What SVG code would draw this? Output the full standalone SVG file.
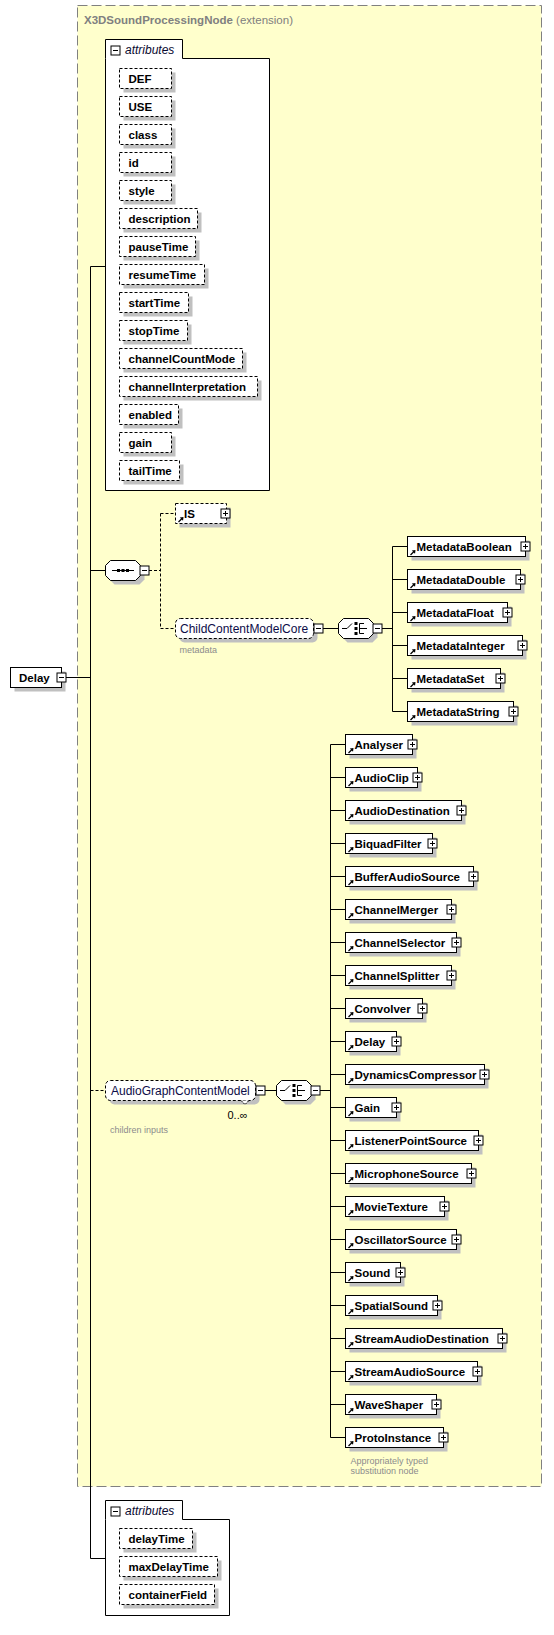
<svg xmlns="http://www.w3.org/2000/svg" xmlns:xlink="http://www.w3.org/1999/xlink" width="554" height="1635" viewBox="0 0 554 1635">
<style>
.box{fill:#fff;stroke:#000;stroke-width:1}
.opt{fill:#fff;stroke:#000;stroke-width:1;stroke-dasharray:3,2}
.sh{fill:#c0c0c0}
.t{font-family:"Liberation Sans",Arial,sans-serif;font-weight:bold;font-size:11.5px;fill:#000}
.gt{font-family:"Liberation Sans",Arial,sans-serif;font-size:12px;fill:#0c0c48}
.it{font-family:"Liberation Sans",Arial,sans-serif;font-style:italic;font-size:12px;fill:#0a0a30}
.note{font-family:"Liberation Sans",Arial,sans-serif;font-size:9px;fill:#8c8c8c}
.ln{stroke:#000;stroke-width:1;fill:none}
.dl{stroke:#000;stroke-width:1;fill:none;stroke-dasharray:3,2}
</style>
<defs>
<g id="plus"><rect x="0.5" y="0.5" width="9" height="9" fill="#fff" stroke="#000"/><path d="M2.5 5H7.5M5 2.5V7.5" stroke="#000"/></g>
<g id="minus"><rect x="0.5" y="0.5" width="9" height="9" fill="#fff" stroke="#000"/><path d="M2.5 5H7.5" stroke="#000"/></g>
<g id="arr"><path d="M1 6.5L4.5 3" stroke="#000" stroke-width="1.3"/><path d="M6 1.5L2.3 2L5.5 5.2Z" fill="#000"/></g>
</defs>

<g id="extension">
<rect x="77.5" y="5.5" width="464" height="1481" fill="#ffffcc" stroke="#808080" stroke-dasharray="10,4"/>
<text x="84" y="24" class="t" style="fill:#808080">X3DSoundProcessingNode <tspan style="font-weight:normal">(extension)</tspan></text>
</g>

<g id="connectors">
<path class="ln" d="M90.5 266.5V1558.5M90.5 266.5H105.5M90.5 570.5H105.5M90.5 1558.5H105.5M66 677.5H90.5"/>
<path class="dl" d="M90.5 1090.5H105.5"/>
<path class="dl" d="M149 570.5H160.5M160.5 513.5V628.5M160.5 513.5H175.5M160.5 628.5H175.5"/>
<path class="ln" d="M323 628.5H338.5M382 628.5H392.5M392.5 546.5V711.5"/>
<path class="ln" d="M392.5 546.5H407.5M392.5 579.5H407.5M392.5 612.5H407.5M392.5 645.5H407.5M392.5 678.5H407.5M392.5 711.5H407.5"/>
<path class="ln" d="M265 1090.5H276.5M319 1090.5H330.5M330.5 744.5V1437.5"/>
<path class="ln" d="M330.5 744.5H345.5M330.5 777.5H345.5M330.5 810.5H345.5M330.5 843.5H345.5M330.5 876.5H345.5M330.5 909.5H345.5M330.5 942.5H345.5M330.5 975.5H345.5M330.5 1008.5H345.5M330.5 1041.5H345.5M330.5 1074.5H345.5M330.5 1107.5H345.5M330.5 1140.5H345.5M330.5 1173.5H345.5M330.5 1206.5H345.5M330.5 1239.5H345.5M330.5 1272.5H345.5M330.5 1305.5H345.5M330.5 1338.5H345.5M330.5 1371.5H345.5M330.5 1404.5H345.5M330.5 1437.5H345.5"/>
</g>

<g id="Delay">
<rect class="sh" x="14.5" y="671.5" width="51" height="20"/>
<rect class="box" x="10.5" y="667.5" width="51" height="20"/>
<text class="t" x="19" y="682">Delay</text>
<use xlink:href="#minus" x="56.5" y="672.5"/>
</g>

<g id="attributes1">
<path class="box" d="M105.5 58.5V39.5H182.5V58.5H269.5V490.5H105.5Z"/>
<use xlink:href="#minus" x="110.5" y="45.5"/>
<text class="it" x="125" y="53.5">attributes</text>
<g id="attr-DEF"><rect class="sh" x="123.5" y="72.5" width="52" height="20"/><rect class="opt" x="119.5" y="68.5" width="52" height="20"/><text class="t" x="128.5" y="82.5">DEF</text></g>
<g id="attr-USE"><rect class="sh" x="123.5" y="100.5" width="52" height="20"/><rect class="opt" x="119.5" y="96.5" width="52" height="20"/><text class="t" x="128.5" y="110.5">USE</text></g>
<g id="attr-class"><rect class="sh" x="123.5" y="128.5" width="52" height="20"/><rect class="opt" x="119.5" y="124.5" width="52" height="20"/><text class="t" x="128.5" y="138.5">class</text></g>
<g id="attr-id"><rect class="sh" x="123.5" y="156.5" width="52" height="20"/><rect class="opt" x="119.5" y="152.5" width="52" height="20"/><text class="t" x="128.5" y="166.5">id</text></g>
<g id="attr-style"><rect class="sh" x="123.5" y="184.5" width="52" height="20"/><rect class="opt" x="119.5" y="180.5" width="52" height="20"/><text class="t" x="128.5" y="194.5">style</text></g>
<g id="attr-description"><rect class="sh" x="123.5" y="212.5" width="78" height="20"/><rect class="opt" x="119.5" y="208.5" width="78" height="20"/><text class="t" x="128.5" y="222.5">description</text></g>
<g id="attr-pauseTime"><rect class="sh" x="123.5" y="240.5" width="76" height="20"/><rect class="opt" x="119.5" y="236.5" width="76" height="20"/><text class="t" x="128.5" y="250.5">pauseTime</text></g>
<g id="attr-resumeTime"><rect class="sh" x="123.5" y="268.5" width="85" height="20"/><rect class="opt" x="119.5" y="264.5" width="85" height="20"/><text class="t" x="128.5" y="278.5">resumeTime</text></g>
<g id="attr-startTime"><rect class="sh" x="123.5" y="296.5" width="69" height="20"/><rect class="opt" x="119.5" y="292.5" width="69" height="20"/><text class="t" x="128.5" y="306.5">startTime</text></g>
<g id="attr-stopTime"><rect class="sh" x="123.5" y="324.5" width="68" height="20"/><rect class="opt" x="119.5" y="320.5" width="68" height="20"/><text class="t" x="128.5" y="334.5">stopTime</text></g>
<g id="attr-channelCountMode"><rect class="sh" x="123.5" y="352.5" width="123" height="20"/><rect class="opt" x="119.5" y="348.5" width="123" height="20"/><text class="t" x="128.5" y="362.5">channelCountMode</text></g>
<g id="attr-channelInterpretation"><rect class="sh" x="123.5" y="380.5" width="138" height="20"/><rect class="opt" x="119.5" y="376.5" width="138" height="20"/><text class="t" x="128.5" y="390.5">channelInterpretation</text></g>
<g id="attr-enabled"><rect class="sh" x="123.5" y="408.5" width="59" height="20"/><rect class="opt" x="119.5" y="404.5" width="59" height="20"/><text class="t" x="128.5" y="418.5">enabled</text></g>
<g id="attr-gain"><rect class="sh" x="123.5" y="436.5" width="52" height="20"/><rect class="opt" x="119.5" y="432.5" width="52" height="20"/><text class="t" x="128.5" y="446.5">gain</text></g>
<g id="attr-tailTime"><rect class="sh" x="123.5" y="464.5" width="60" height="20"/><rect class="opt" x="119.5" y="460.5" width="60" height="20"/><text class="t" x="128.5" y="474.5">tailTime</text></g>
</g>

<g id="sequence">
<polygon class="sh" points="114.5,564.5 139.5,564.5 144.5,569.5 144.5,579.5 139.5,584.5 114.5,584.5 109.5,579.5 109.5,569.5"/>
<polygon class="box" points="110.5,560.5 135.5,560.5 140.5,565.5 140.5,575.5 135.5,580.5 110.5,580.5 105.5,575.5 105.5,565.5"/>
<path class="ln" d="M112 570.5H134"/>
<rect x="117" y="569" width="3" height="3" fill="#000"/><rect x="121.5" y="569" width="3" height="3" fill="#000"/><rect x="126" y="569" width="3" height="3" fill="#000"/>
<use xlink:href="#minus" x="139.5" y="565.5"/>
</g>

<g id="IS">
<rect class="sh" x="179.5" y="507.5" width="51" height="20"/>
<rect class="opt" x="175.5" y="503.5" width="51" height="20"/>
<use xlink:href="#arr" x="177.5" y="515.5"/>
<text class="t" x="184" y="518">IS</text>
<use xlink:href="#plus" x="220.5" y="508.5"/>
</g>

<g id="ChildContentModelCore">
<rect class="sh" x="179.5" y="622.5" width="138" height="20" rx="5"/>
<rect class="opt" x="175.5" y="618.5" width="138" height="20" rx="5"/>
<text class="gt" x="180" y="633">ChildContentModelCore</text>
<use xlink:href="#minus" x="313.5" y="623.5"/>
<text class="note" x="179.5" y="653">metadata</text>
</g>

<g id="choice1">
<polygon class="sh" points="347.5,622.5 372.5,622.5 377.5,627.5 377.5,637.5 372.5,642.5 347.5,642.5 342.5,637.5 342.5,627.5"/>
<polygon class="box" points="343.5,618.5 368.5,618.5 373.5,623.5 373.5,633.5 368.5,638.5 343.5,638.5 338.5,633.5 338.5,623.5"/>
<path class="ln" d="M342 628.5H347L352 623.5M359.5 623.5V633.5M359.5 623.5H364M359.5 628.5H367M359.5 633.5H364"/>
<rect x="354.5" y="622" width="3" height="3" fill="#000"/><rect x="354.5" y="627" width="3" height="3" fill="#000"/><rect x="354.5" y="632" width="3" height="3" fill="#000"/>
<use xlink:href="#minus" x="372.5" y="623.5"/>
</g>

<g id="MetadataBoolean"><rect class="sh" x="411.5" y="540.5" width="118" height="20"/><rect class="box" x="407.5" y="536.5" width="118" height="20"/><use xlink:href="#arr" x="409.5" y="548.5"/><text class="t" x="416.5" y="551">MetadataBoolean</text><use xlink:href="#plus" x="520.5" y="541.5"/></g>
<g id="MetadataDouble"><rect class="sh" x="411.5" y="573.5" width="113" height="20"/><rect class="box" x="407.5" y="569.5" width="113" height="20"/><use xlink:href="#arr" x="409.5" y="581.5"/><text class="t" x="416.5" y="584">MetadataDouble</text><use xlink:href="#plus" x="515.5" y="574.5"/></g>
<g id="MetadataFloat"><rect class="sh" x="411.5" y="606.5" width="100" height="20"/><rect class="box" x="407.5" y="602.5" width="100" height="20"/><use xlink:href="#arr" x="409.5" y="614.5"/><text class="t" x="416.5" y="617">MetadataFloat</text><use xlink:href="#plus" x="502.5" y="607.5"/></g>
<g id="MetadataInteger"><rect class="sh" x="411.5" y="639.5" width="115" height="20"/><rect class="box" x="407.5" y="635.5" width="115" height="20"/><use xlink:href="#arr" x="409.5" y="647.5"/><text class="t" x="416.5" y="650">MetadataInteger</text><use xlink:href="#plus" x="517.5" y="640.5"/></g>
<g id="MetadataSet"><rect class="sh" x="411.5" y="672.5" width="93" height="20"/><rect class="box" x="407.5" y="668.5" width="93" height="20"/><use xlink:href="#arr" x="409.5" y="680.5"/><text class="t" x="416.5" y="683">MetadataSet</text><use xlink:href="#plus" x="495.5" y="673.5"/></g>
<g id="MetadataString"><rect class="sh" x="411.5" y="705.5" width="106" height="20"/><rect class="box" x="407.5" y="701.5" width="106" height="20"/><use xlink:href="#arr" x="409.5" y="713.5"/><text class="t" x="416.5" y="716">MetadataString</text><use xlink:href="#plus" x="508.5" y="706.5"/></g>

<g id="AudioGraphContentModel">
<rect class="sh" x="109.5" y="1084.5" width="150" height="20" rx="5"/>
<rect class="opt" x="105.5" y="1080.5" width="150" height="20" rx="5"/>
<path d="M241 1100.5L245 1104.5L249 1100.5" fill="#fff" stroke="#000" stroke-dasharray="2,1"/>
<text class="gt" x="111" y="1095">AudioGraphContentModel</text>
<use xlink:href="#minus" x="255.5" y="1085.5"/>
<text x="227.5" y="1118.5" style="font-family:'Liberation Sans',Arial,sans-serif;font-size:11px;fill:#000">0..∞</text>
<text class="note" x="110" y="1133">children inputs</text>
</g>

<g id="choice2">
<polygon class="sh" points="285.5,1084.5 310.5,1084.5 315.5,1089.5 315.5,1099.5 310.5,1104.5 285.5,1104.5 280.5,1099.5 280.5,1089.5"/>
<polygon class="box" points="281.5,1080.5 306.5,1080.5 311.5,1085.5 311.5,1095.5 306.5,1100.5 281.5,1100.5 276.5,1095.5 276.5,1085.5"/>
<path class="ln" d="M280 1090.5H285L290 1085.5M297.5 1085.5V1095.5M297.5 1085.5H302M297.5 1090.5H305M297.5 1095.5H302"/>
<rect x="292.5" y="1084" width="3" height="3" fill="#000"/><rect x="292.5" y="1089" width="3" height="3" fill="#000"/><rect x="292.5" y="1094" width="3" height="3" fill="#000"/>
<use xlink:href="#minus" x="310.5" y="1085.5"/>
</g>

<g id="Analyser"><rect class="sh" x="349.5" y="738.5" width="67" height="20"/><rect class="box" x="345.5" y="734.5" width="67" height="20"/><use xlink:href="#arr" x="347.5" y="746.5"/><text class="t" x="354.5" y="749">Analyser</text><use xlink:href="#plus" x="407.5" y="739.5"/></g>
<g id="AudioClip"><rect class="sh" x="349.5" y="771.5" width="72" height="20"/><rect class="box" x="345.5" y="767.5" width="72" height="20"/><use xlink:href="#arr" x="347.5" y="779.5"/><text class="t" x="354.5" y="782">AudioClip</text><use xlink:href="#plus" x="412.5" y="772.5"/></g>
<g id="AudioDestination"><rect class="sh" x="349.5" y="804.5" width="116" height="20"/><rect class="box" x="345.5" y="800.5" width="116" height="20"/><use xlink:href="#arr" x="347.5" y="812.5"/><text class="t" x="354.5" y="815">AudioDestination</text><use xlink:href="#plus" x="456.5" y="805.5"/></g>
<g id="BiquadFilter"><rect class="sh" x="349.5" y="837.5" width="87" height="20"/><rect class="box" x="345.5" y="833.5" width="87" height="20"/><use xlink:href="#arr" x="347.5" y="845.5"/><text class="t" x="354.5" y="848">BiquadFilter</text><use xlink:href="#plus" x="427.5" y="838.5"/></g>
<g id="BufferAudioSource"><rect class="sh" x="349.5" y="870.5" width="128" height="20"/><rect class="box" x="345.5" y="866.5" width="128" height="20"/><use xlink:href="#arr" x="347.5" y="878.5"/><text class="t" x="354.5" y="881">BufferAudioSource</text><use xlink:href="#plus" x="468.5" y="871.5"/></g>
<g id="ChannelMerger"><rect class="sh" x="349.5" y="903.5" width="106" height="20"/><rect class="box" x="345.5" y="899.5" width="106" height="20"/><use xlink:href="#arr" x="347.5" y="911.5"/><text class="t" x="354.5" y="914">ChannelMerger</text><use xlink:href="#plus" x="446.5" y="904.5"/></g>
<g id="ChannelSelector"><rect class="sh" x="349.5" y="936.5" width="111" height="20"/><rect class="box" x="345.5" y="932.5" width="111" height="20"/><use xlink:href="#arr" x="347.5" y="944.5"/><text class="t" x="354.5" y="947">ChannelSelector</text><use xlink:href="#plus" x="451.5" y="937.5"/></g>
<g id="ChannelSplitter"><rect class="sh" x="349.5" y="969.5" width="106" height="20"/><rect class="box" x="345.5" y="965.5" width="106" height="20"/><use xlink:href="#arr" x="347.5" y="977.5"/><text class="t" x="354.5" y="980">ChannelSplitter</text><use xlink:href="#plus" x="446.5" y="970.5"/></g>
<g id="Convolver"><rect class="sh" x="349.5" y="1002.5" width="77" height="20"/><rect class="box" x="345.5" y="998.5" width="77" height="20"/><use xlink:href="#arr" x="347.5" y="1010.5"/><text class="t" x="354.5" y="1013">Convolver</text><use xlink:href="#plus" x="417.5" y="1003.5"/></g>
<g id="DelayRef"><rect class="sh" x="349.5" y="1035.5" width="51" height="20"/><rect class="box" x="345.5" y="1031.5" width="51" height="20"/><use xlink:href="#arr" x="347.5" y="1043.5"/><text class="t" x="354.5" y="1046">Delay</text><use xlink:href="#plus" x="391.5" y="1036.5"/></g>
<g id="DynamicsCompressor"><rect class="sh" x="349.5" y="1068.5" width="139" height="20"/><rect class="box" x="345.5" y="1064.5" width="139" height="20"/><use xlink:href="#arr" x="347.5" y="1076.5"/><text class="t" x="354.5" y="1079">DynamicsCompressor</text><use xlink:href="#plus" x="479.5" y="1069.5"/></g>
<g id="Gain"><rect class="sh" x="349.5" y="1101.5" width="51" height="20"/><rect class="box" x="345.5" y="1097.5" width="51" height="20"/><use xlink:href="#arr" x="347.5" y="1109.5"/><text class="t" x="354.5" y="1112">Gain</text><use xlink:href="#plus" x="391.5" y="1102.5"/></g>
<g id="ListenerPointSource"><rect class="sh" x="349.5" y="1134.5" width="133" height="20"/><rect class="box" x="345.5" y="1130.5" width="133" height="20"/><use xlink:href="#arr" x="347.5" y="1142.5"/><text class="t" x="354.5" y="1145">ListenerPointSource</text><use xlink:href="#plus" x="473.5" y="1135.5"/></g>
<g id="MicrophoneSource"><rect class="sh" x="349.5" y="1167.5" width="126" height="20"/><rect class="box" x="345.5" y="1163.5" width="126" height="20"/><use xlink:href="#arr" x="347.5" y="1175.5"/><text class="t" x="354.5" y="1178">MicrophoneSource</text><use xlink:href="#plus" x="466.5" y="1168.5"/></g>
<g id="MovieTexture"><rect class="sh" x="349.5" y="1200.5" width="99" height="20"/><rect class="box" x="345.5" y="1196.5" width="99" height="20"/><use xlink:href="#arr" x="347.5" y="1208.5"/><text class="t" x="354.5" y="1211">MovieTexture</text><use xlink:href="#plus" x="439.5" y="1201.5"/></g>
<g id="OscillatorSource"><rect class="sh" x="349.5" y="1233.5" width="111" height="20"/><rect class="box" x="345.5" y="1229.5" width="111" height="20"/><use xlink:href="#arr" x="347.5" y="1241.5"/><text class="t" x="354.5" y="1244">OscillatorSource</text><use xlink:href="#plus" x="451.5" y="1234.5"/></g>
<g id="Sound"><rect class="sh" x="349.5" y="1266.5" width="55" height="20"/><rect class="box" x="345.5" y="1262.5" width="55" height="20"/><use xlink:href="#arr" x="347.5" y="1274.5"/><text class="t" x="354.5" y="1277">Sound</text><use xlink:href="#plus" x="395.5" y="1267.5"/></g>
<g id="SpatialSound"><rect class="sh" x="349.5" y="1299.5" width="92" height="20"/><rect class="box" x="345.5" y="1295.5" width="92" height="20"/><use xlink:href="#arr" x="347.5" y="1307.5"/><text class="t" x="354.5" y="1310">SpatialSound</text><use xlink:href="#plus" x="432.5" y="1300.5"/></g>
<g id="StreamAudioDestination"><rect class="sh" x="349.5" y="1332.5" width="157" height="20"/><rect class="box" x="345.5" y="1328.5" width="157" height="20"/><use xlink:href="#arr" x="347.5" y="1340.5"/><text class="t" x="354.5" y="1343">StreamAudioDestination</text><use xlink:href="#plus" x="497.5" y="1333.5"/></g>
<g id="StreamAudioSource"><rect class="sh" x="349.5" y="1365.5" width="132" height="20"/><rect class="box" x="345.5" y="1361.5" width="132" height="20"/><use xlink:href="#arr" x="347.5" y="1373.5"/><text class="t" x="354.5" y="1376">StreamAudioSource</text><use xlink:href="#plus" x="472.5" y="1366.5"/></g>
<g id="WaveShaper"><rect class="sh" x="349.5" y="1398.5" width="91" height="20"/><rect class="box" x="345.5" y="1394.5" width="91" height="20"/><use xlink:href="#arr" x="347.5" y="1406.5"/><text class="t" x="354.5" y="1409">WaveShaper</text><use xlink:href="#plus" x="431.5" y="1399.5"/></g>
<g id="ProtoInstance"><rect class="sh" x="349.5" y="1431.5" width="98" height="20"/><rect class="box" x="345.5" y="1427.5" width="98" height="20"/><use xlink:href="#arr" x="347.5" y="1439.5"/><text class="t" x="354.5" y="1442">ProtoInstance</text><use xlink:href="#plus" x="438.5" y="1432.5"/>
<text class="note" x="350.5" y="1463.5">Appropriately typed</text><text class="note" x="350.5" y="1474">substitution node</text></g>

<g id="attributes2">
<path class="box" d="M105.5 1519.5V1500.5H182.5V1519.5H229.5V1615.5H105.5Z"/>
<use xlink:href="#minus" x="110.5" y="1506.5"/>
<text class="it" x="125" y="1514.5">attributes</text>
<g id="attr-delayTime"><rect class="sh" x="123.5" y="1532.5" width="73" height="20"/><rect class="opt" x="119.5" y="1528.5" width="73" height="20"/><text class="t" x="128.5" y="1542.5">delayTime</text></g>
<g id="attr-maxDelayTime"><rect class="sh" x="123.5" y="1560.5" width="98" height="20"/><rect class="opt" x="119.5" y="1556.5" width="98" height="20"/><text class="t" x="128.5" y="1570.5">maxDelayTime</text></g>
<g id="attr-containerField"><rect class="sh" x="123.5" y="1588.5" width="95" height="20"/><rect class="opt" x="119.5" y="1584.5" width="95" height="20"/><text class="t" x="128.5" y="1598.5">containerField</text></g>
</g>
</svg>
